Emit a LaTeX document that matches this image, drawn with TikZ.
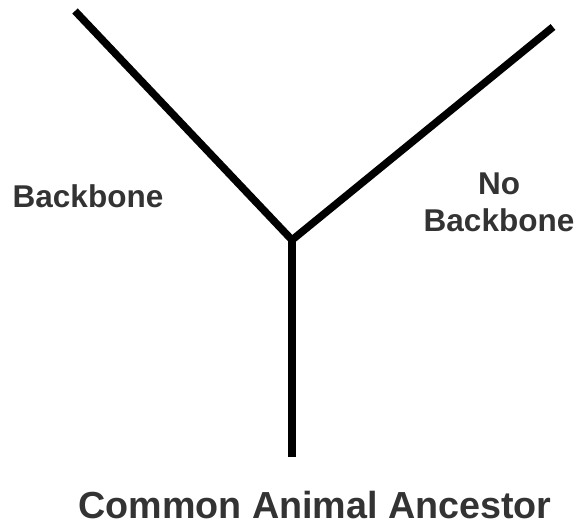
\documentclass[tikz,border=0pt]{standalone}
\usepackage{fontspec}
\setmainfont{Liberation Sans}
\usetikzlibrary{positioning}

\begin{document}
\begin{tikzpicture}[x=1pt,y=-1pt,line cap=butt,line join=miter]

% Colors
\definecolor{branchblack}{RGB}{0,0,0}
\definecolor{labelgray}{RGB}{51,51,51}

% Styles
\tikzset{
  branch/.style={draw=branchblack,line width=7.5pt},
  traitlabel/.style={font=\fontsize{31.5}{37}\selectfont\bfseries,text=labelgray,inner sep=0pt,align=center},
  rootlabel/.style={font=\fontsize{37.7}{44}\selectfont\bfseries,text=labelgray,inner sep=0pt}
}

\useasboundingbox (0,0) rectangle (578,524);

% Tree points
\coordinate (fork) at (292,240);
\coordinate (leftend) at (75,11);
\coordinate (rightend) at (553,27);
\coordinate (rootend) at (292,457);

% Branches
\draw[branch] (leftend) -- (fork);
\draw[branch] (rightend) -- (fork);
\draw[branch] (fork) -- (rootend);

% Labels
\node[traitlabel,anchor=base] (backbone) at (88,207) {Backbone};
\node[traitlabel,anchor=north] (nobackbone) at (499,173) {No\\Backbone};
\node[rootlabel,anchor=base] (ancestor) at (315,518.5) {Common Animal Ancestor};

\end{tikzpicture}
\end{document}
